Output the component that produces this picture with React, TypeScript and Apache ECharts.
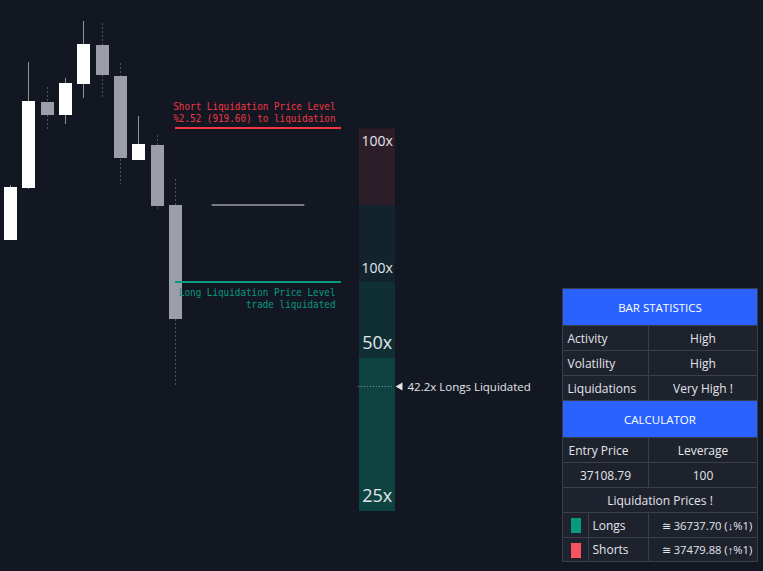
import React, { useEffect, useRef } from "react";
import * as echarts from "echarts";

// ---- candles (bar index 0..9) ----
const candleOpen = [36939.1, 37191.2, 37608.3, 37545.3, 37695.6, 37884.8, 37734.4, 37327.0, 37399.8, 37108.8];
const candleClose = [37196.1, 37613.2, 37545.3, 37700.5, 37889.6, 37739.3, 37336.7, 37404.6, 37104.0, 36555.9];
const candleLow = [36939.0, 37186.4, 37477.4, 37501.6, 37627.7, 37622.9, 37210.6, 37327.0, 37079.7, 36229.4];
const candleHigh = [37205.8, 37802.3, 37681.1, 37724.7, 38001.2, 37991.5, 37797.5, 37540.4, 37448.3, 37234.9];

// ---- calculator ----
const entryPrice = 37108.79;
const leverage = 100;
const longLiqPrice = 36737.7;
const shortLiqPrice = 37479.88;

// ---- level lines ----
const levelNames = ["short", "entry", "long"];
const levelPrices = [shortLiqPrice, entryPrice, longLiqPrice];
const levelFromBar = [9, 11, 9];
const levelToBar = [18, 16, 18];
const levelTexts = [
  "Short Liquidation Price Level\n%2.52 (919.60) to liquidation",
  "",
  "Long Liquidation Price Level\ntrade liquidated",
];

// ---- leverage heat bar ----
const tierBounds = [37479.88, 37108.79, 36737.7, 36366.61, 35624.44];
const tierLabels = ["100x", "100x", "50x", "25x"];
const tierBarFrom = 19;
const tierBarTo = 21;
const liquidatedPrice = 36229.4;
const liquidatedText = "42.2x Longs Liquidated";

// ---- table ----
const statLabels = ["Activity", "Volatility", "Liquidations"];
const statValues = ["High", "High", "Very High !"];
const calcHeaders = ["Entry Price", "Leverage"];
const liqRowLabels = ["Longs", "Shorts"];
const liqRowValues = [`≅ ${longLiqPrice.toFixed(2)} (↓%1)`, `≅ ${shortLiqPrice.toFixed(2)} (↑%1)`];

const BG = "#131722";
const RED = "#f23645";
const TEAL = "#089981";
const MONO = '"DejaVu Sans Mono", monospace';
const SANS = '"Open Sans", sans-serif';
const TXT = "#e3e5eb";
const tierFills = ["#2c1e28", "#12232d", "#0f2f35", "#0d4441"];

function buildTable(): any[] {
  const L = 562.5, S = 588.5, M = 648.5, R = 757.5;
  const Y = [288.5, 325.5, 350.5, 375.5, 400.5, 437.5, 462.5, 487.5, 512.5, 537.5, 561.5];
  const cellFill = "#1e222d";
  const stroke = "#3b3f4a";
  const out: any[] = [];
  const cell = (x1: number, y1: number, x2: number, y2: number, fill = cellFill) =>
    out.push({ type: "rect", shape: { x: x1, y: y1, width: x2 - x1, height: y2 - y1 }, style: { fill, stroke, lineWidth: 1 } });
  const txt = (text: string, x: number, y: number, align: string, extra: any = {}) =>
    out.push({
      type: "text",
      style: {
        text, x, y, align, verticalAlign: "middle", fill: TXT, fontSize: 12, fontWeight: 500, fontFamily: SANS, ...extra,
      },
    });
  const mid = (i: number) => (Y[i] + Y[i + 1]) / 2;

  cell(L, Y[0], R, Y[1], "#2962ff");
  txt("BAR STATISTICS", (L + R) / 2, mid(0), "center", { fill: "#ffffff", fontSize: 11.5 });
  statLabels.forEach((lab, i) => {
    cell(L, Y[i + 1], M, Y[i + 2]);
    cell(M, Y[i + 1], R, Y[i + 2]);
    txt(lab, L + 5, mid(i + 1), "left");
    txt(statValues[i], (M + R) / 2, mid(i + 1), "center");
  });
  cell(L, Y[4], R, Y[5], "#2962ff");
  txt("CALCULATOR", (L + R) / 2, mid(4), "center", { fill: "#ffffff", fontSize: 11.5 });
  cell(L, Y[5], M, Y[6]);
  cell(M, Y[5], R, Y[6]);
  txt(calcHeaders[0], L + 6, mid(5), "left");
  txt(calcHeaders[1], (M + R) / 2, mid(5), "center");
  cell(L, Y[6], M, Y[7]);
  cell(M, Y[6], R, Y[7]);
  txt(entryPrice.toFixed(2), (L + M) / 2, mid(6), "center");
  txt(String(leverage), (M + R) / 2, mid(6), "center");
  cell(L, Y[7], R, Y[8]);
  txt("Liquidation Prices !", (L + R) / 2, mid(7), "center");
  liqRowLabels.forEach((lab, i) => {
    const r = 8 + i;
    cell(L, Y[r], S, Y[r + 1]);
    cell(S, Y[r], M, Y[r + 1]);
    cell(M, Y[r], R, Y[r + 1]);
    out.push({
      type: "rect",
      shape: { x: 571, y: Y[r] + 5.5, width: 10, height: 15 },
      style: { fill: i === 0 ? TEAL : "#f7525f" },
    });
    txt(lab, S + 4, mid(r), "left");
    txt(liqRowValues[i], (M + R) / 2 + 4, mid(r), "center", { fontSize: 11.2 });
  });
  return out;
}

export default function App() {
  const ref = useRef<HTMLDivElement>(null);
  useEffect(() => {
    if (!ref.current) return;
    const chart = echarts.init(ref.current, undefined, { renderer: "svg" });

    const pxPerBar = 18.3333;
    const firstCenter = 10.5;
    const pricePerPx = 4.85;
    const entryY = 205;

    const candleData = candleOpen.map((o, i) => [i, o, candleClose[i], candleLow[i], candleHigh[i]]);
    const levelData = levelNames.map((n, i) => [levelFromBar[i], levelToBar[i], levelPrices[i], i]);
    const tierData = tierLabels.map((lab, i) => [tierBarFrom, tierBarTo, tierBounds[i], tierBounds[i + 1], i]);

    const option: any = {
      animation: false,
      backgroundColor: BG,
      grid: { left: 0, right: 0, top: 0, bottom: 0 },
      xAxis: {
        type: "value",
        min: -firstCenter / pxPerBar,
        max: (763 - firstCenter) / pxPerBar,
        show: false,
      },
      yAxis: {
        type: "value",
        min: entryPrice - (571 - entryY) * pricePerPx,
        max: entryPrice + entryY * pricePerPx,
        show: false,
      },
      series: [
        {
          type: "custom",
          name: "tiers",
          data: tierData,
          renderItem: (params: any, api: any) => {
            const x0 = api.value(0), x1 = api.value(1), pTop = api.value(2), pBot = api.value(3), idx = api.value(4);
            const a = api.coord([x0, pTop]);
            const b = api.coord([x1, pBot]);
            const lab = tierLabels[idx];
            const big = lab !== "100x";
            const atTop = idx === 0;
            return {
              type: "group",
              children: [
                {
                  type: "rect",
                  shape: { x: Math.round(a[0]), y: a[1], width: Math.round(b[0]) - Math.round(a[0]), height: b[1] - a[1] },
                  style: { fill: tierFills[idx] },
                },
                {
                  type: "text",
                  style: {
                    text: lab,
                    x: (a[0] + b[0]) / 2,
                    y: atTop ? a[1] + 5 : b[1] - 7,
                    align: "center",
                    verticalAlign: atTop ? "top" : "bottom",
                    fill: TXT,
                    fontSize: big ? 18 : 14,
                    fontFamily: SANS,
                  },
                },
              ],
            };
          },
        },
        {
          type: "custom",
          name: "liquidated",
          data: [[tierBarFrom, tierBarTo, liquidatedPrice]],
          renderItem: (params: any, api: any) => {
            const a = api.coord([api.value(0), api.value(2)]);
            const b = api.coord([api.value(1), api.value(2)]);
            const y = Math.round(a[1]) + 0.5;
            const tip = b[0];
            return {
              type: "group",
              children: [
                {
                  type: "line",
                  shape: { x1: a[0] - 1, y1: y, x2: tip - 3, y2: y },
                  style: { stroke: "#9598a1", lineWidth: 1, lineDash: [1, 2] },
                },
                {
                  type: "polygon",
                  shape: { points: [[tip, y], [tip + 7, y - 4], [tip + 7, y + 4]] },
                  style: { fill: TXT },
                },
                {
                  type: "text",
                  style: {
                    text: liquidatedText,
                    x: tip + 12,
                    y: y,
                    align: "left",
                    verticalAlign: "middle",
                    fill: TXT,
                    fontSize: 11.5,
                    fontFamily: SANS,
                  },
                },
              ],
            };
          },
        },
        {
          type: "custom",
          name: "candles",
          data: candleData,
          renderItem: (params: any, api: any) => {
            const i = api.value(0), o = api.value(1), c = api.value(2), l = api.value(3), h = api.value(4);
            const pO = api.coord([i, o]);
            const pC = api.coord([i, c]);
            const pL = api.coord([i, l]);
            const pH = api.coord([i, h]);
            const w = 13;
            const up = c >= o;
            const wx = Math.floor(pO[0]) + 0.5;
            const bx = Math.round(pO[0] - w / 2);
            const top = Math.round(Math.min(pO[1], pC[1]));
            const bot = Math.round(Math.max(pO[1], pC[1]));
            return {
              type: "group",
              children: [
                {
                  type: "line",
                  shape: { x1: wx, y1: Math.round(pH[1]), x2: wx, y2: Math.round(pL[1]) },
                  style: up
                    ? { stroke: "#8e9199", lineWidth: 1 }
                    : { stroke: "#4f535d", lineWidth: 1, lineDash: [2, 2] },
                },
                {
                  type: "rect",
                  shape: { x: bx, y: top, width: w, height: Math.max(1, bot - top) },
                  style: { fill: up ? "#ffffff" : "#9b9ea8" },
                },
              ],
            };
          },
        },
        {
          type: "custom",
          name: "levels",
          data: levelData,
          renderItem: (params: any, api: any) => {
            const idx = api.value(3);
            const a = api.coord([api.value(0), api.value(2)]);
            const b = api.coord([api.value(1), api.value(2)]);
            const kind = levelNames[idx];
            const color = kind === "short" ? RED : kind === "long" ? TEAL : "#787b86";
            const y = Math.round(a[1]);
            const children: any[] = [
              {
                type: "line",
                shape: { x1: a[0] - 0.5, y1: y, x2: b[0] + 0.5, y2: y },
                style: { stroke: color, lineWidth: 2 },
              },
            ];
            if (levelTexts[idx]) {
              children.push({
                type: "text",
                x: b[0] - 5,
                y: kind === "short" ? y - 4 : y + 4,
                scaleX: 0.846,
                style: {
                  text: levelTexts[idx],
                  x: 0,
                  y: 0,
                  align: "right",
                  verticalAlign: kind === "short" ? "bottom" : "top",
                  fill: color,
                  fontSize: 11,
                  lineHeight: 12,
                  fontFamily: MONO,
                },
              });
            }
            return { type: "group", children };
          },
        },
      ],
      graphic: buildTable(),
    };
    chart.setOption(option);
    return () => chart.dispose();
  }, []);

  return (
    <div
      ref={ref}
      style={{ position: "fixed", left: 0, top: 0, width: 763, height: 571, background: BG }}
    />
  );
}
